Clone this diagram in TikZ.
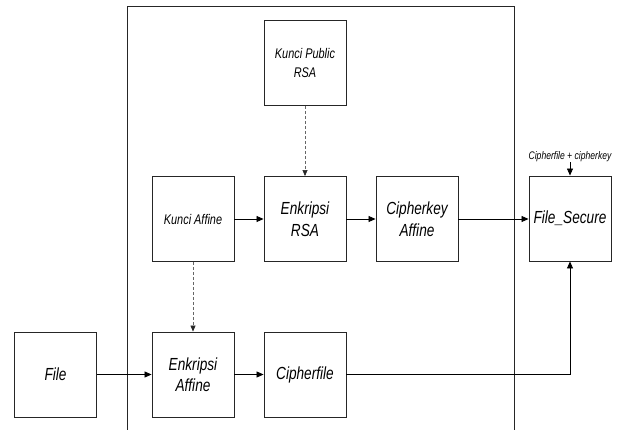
\documentclass[tikz,border=0pt]{standalone}
\usepackage{fontspec}
\setmainfont{Liberation Sans}
\newfontfamily\narrowfont[FakeStretch=0.78]{Liberation Sans}
\usetikzlibrary{arrows.meta}
\begin{document}
\begin{tikzpicture}[x=1pt,y=-1pt,
  box/.style={draw=black!85,line width=0.9pt,minimum width=82pt,minimum height=85pt,inner sep=0pt,align=center,font=\narrowfont\itshape\fontsize{17.5}{21.5}\selectfont},
  smallbox/.style={box,font=\narrowfont\itshape\fontsize{14}{19}\selectfont},
  flow/.style={line width=0.8pt,-{Triangle[length=7pt,width=6pt]}},
  keyflow/.style={draw=black!60,line width=0.6pt,dashed,dash pattern=on 3pt off 2pt,-{Triangle[length=6pt,width=5pt,color=black!85]}}]
\useasboundingbox (0,0) rectangle (620,430);
% big container (open at the bottom)
\draw[line width=0.9pt,black!85] (127,431) -- (127,6) -- (514,6) -- (514,431);
\node[smallbox] (kpub) at (305,63) {Kunci Public\\RSA};
\node[smallbox] (kaff) at (193,219) {Kunci Affine};
\node[box] (ersa) at (305,219) {Enkripsi\\RSA};
\node[box] (ckey) at (417,219) {Cipherkey\\Affine};
\node[box] (eaff) at (193,374.5) {Enkripsi\\Affine};
\node[box] (cfile) at (305,374.5) {Cipherfile};
\node[box] (file) at (55.5,374.5) {File};
\node[box] (fsec) at (570,218.5) {File\_Secure};
\node[font=\narrowfont\itshape\fontsize{11}{13}\selectfont,inner sep=0pt] (lbl) at (570,157) {Cipherfile + cipherkey};
\draw[keyflow] (kpub) -- (ersa);
\draw[keyflow] (kaff) -- (eaff);
\draw[flow] (kaff) -- (ersa);
\draw[flow] (ersa) -- (ckey);
\draw[flow] (ckey) -- (fsec.west |- ckey);
\draw[flow] (file) -- (eaff);
\draw[flow] (eaff) -- (cfile);
\draw[flow] (cfile.east) -| (fsec.south);
\draw[flow,line width=0.7pt] (lbl.south) -- (fsec.north);
\end{tikzpicture}
\end{document}
